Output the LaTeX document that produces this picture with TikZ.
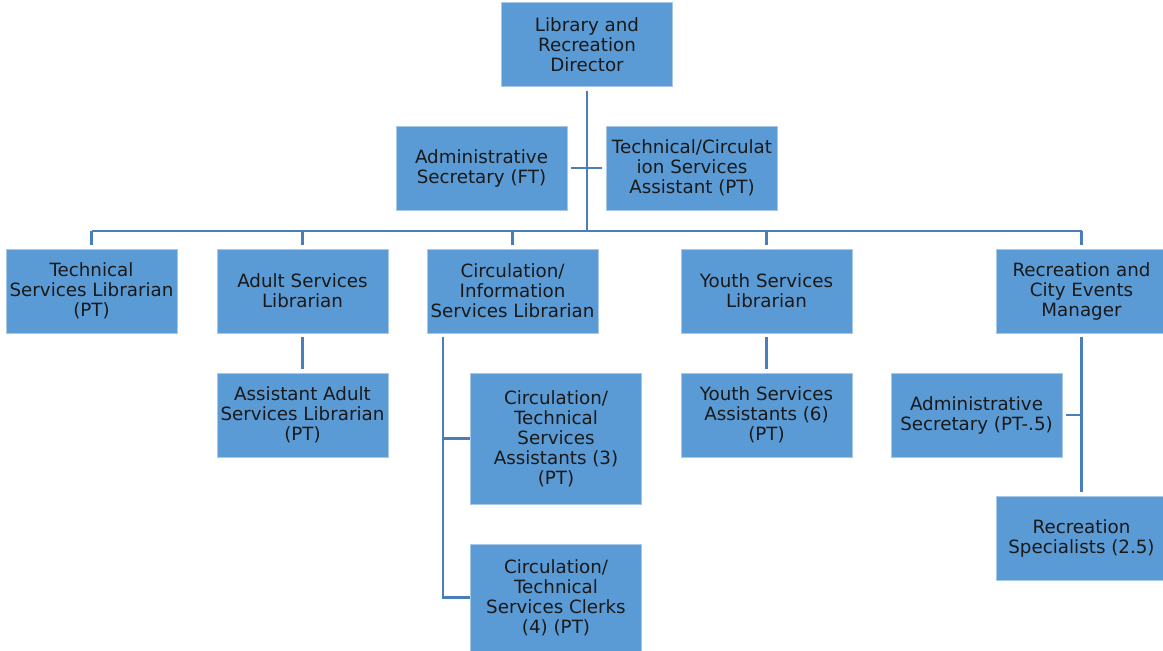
\documentclass[tikz,border=0pt]{standalone}
\usepackage{fontspec}
\setmainfont{DejaVu Sans}
\usepackage{tikz}
\usetikzlibrary{positioning}

\definecolor{boxblue}{HTML}{5B9BD5}
\definecolor{boxedge}{HTML}{A8C8EA}
\definecolor{linkblue}{HTML}{4A7EBB}

\begin{document}
\begin{tikzpicture}[x=0.02cm,y=-0.02cm,
	box/.style={draw=boxedge, line width=0.4pt, fill=boxblue, inner sep=0pt,
		minimum width=3.42cm, minimum height=1.68cm, align=center,
		font=\fontsize{10.4}{11.4}\selectfont, text=black!90},
	link/.style={draw=linkblue, line width=1.6pt},
	gap/.style={shorten <=2.2pt, shorten >=2.2pt}]
	\useasboundingbox (0,0) rectangle (1163,651);

	% top
	\node[box] (dir) at (587,44.5) {Library and\\Recreation\\Director};
	\node[box] (adm) at (481.5,168) {Administrative\\Secretary (FT)};
	\node[box] (tca) at (692,168) {Technical/Circulat\\ion Services\\Assistant (PT)};

	% second row
	\node[box] (t1) at (91.5,291) {Technical\\Services Librarian\\(PT)};
	\node[box] (t2) at (302.5,291) {Adult Services\\Librarian};
	\node[box] (t3) at (512.5,291) {Circulation/\\Information\\Services Librarian};
	\node[box] (t4) at (766.5,291) {Youth Services\\Librarian};
	\node[box] (t5) at (1081.5,291) {Recreation and\\City Events\\Manager};

	% third row and below
	\node[box] (a2) at (302.5,415) {Assistant Adult\\Services Librarian\\(PT)};
	\node[box, minimum height=2.62cm] (c1) at (556,438.5) {Circulation/\\Technical\\Services\\Assistants (3)\\(PT)};
	\node[box, minimum height=2.14cm] (c2) at (556,597.5) {Circulation/\\Technical\\Services Clerks\\(4) (PT)};
	\node[box] (a4) at (766.5,415) {Youth Services\\Assistants (6)\\(PT)};
	\node[box] (a5) at (976.5,415) {Administrative\\Secretary (PT-.5)};
	\node[box] (r5) at (1081.5,538) {Recreation\\Specialists (2.5)};

	\coordinate (bar) at (587,231);
	\coordinate (cv) at (443,337);

	\draw[link, shorten <=2.2pt] (dir) -- (dir |- bar);
	\draw[link, gap] (adm) -- (tca);
	\draw[link] (t1 |- bar) -- (t5 |- bar);
	\foreach \n in {t1,t2,t3,t4,t5}
		\draw[link, shorten >=1.8pt] (\n |- bar) -- (\n);

	\draw[link, gap] (t2) -- (a2);
	\draw[link, gap] (t4) -- (a4);
	\draw[link] (cv) -- (cv |- c2) -- (c2);
	\draw[link] (cv |- c1) -- (c1);
	\draw[link, gap] (t5) -- (r5);
	\draw[link, shorten <=1.8pt] (a5) -- (a5 -| t5);
\end{tikzpicture}
\end{document}
